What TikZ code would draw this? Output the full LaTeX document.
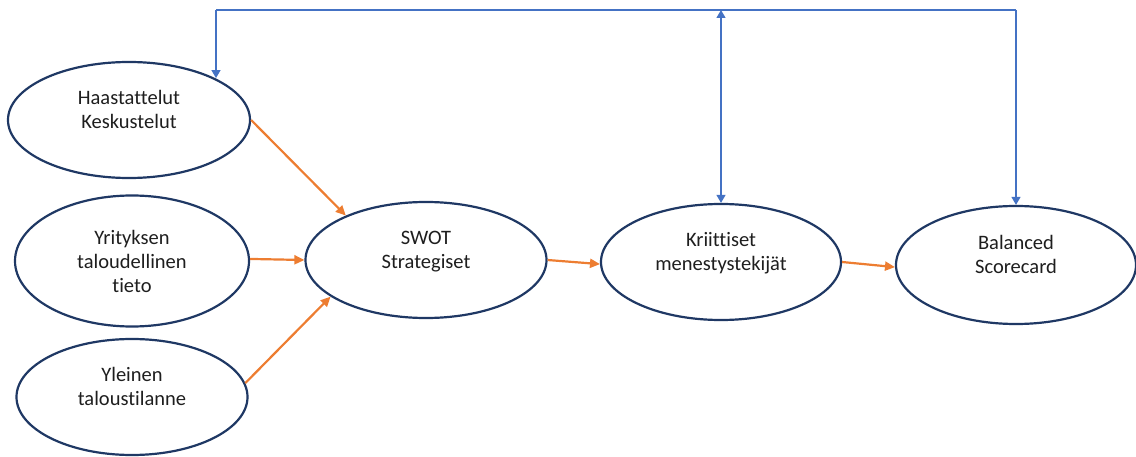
\documentclass[tikz,border=0pt]{standalone}
\usepackage{fontspec}
\setmainfont{Carlito}[Ligatures=NoCommon]
\usetikzlibrary{shapes.geometric,arrows.meta}
\definecolor{navy}{RGB}{31,56,100}
\definecolor{flow}{RGB}{237,125,49}
\definecolor{loop}{RGB}{68,114,196}
\definecolor{ink}{RGB}{30,30,30}
\tikzset{
  bubble/.style={ellipse, draw=navy, line width=2.2pt, inner sep=0pt,
    align=center, text=ink, font=\fontsize{20.5}{24}\selectfont},
  % two-line labels sit a little above the middle of their ellipse
  lifted/.style={text depth=21pt},
  flowarrow/.style={draw=flow, line width=2.2pt, -{Triangle[length=10pt,width=9pt]}},
  loopline/.style={draw=loop, line width=1.3pt},
  looptip/.style={-{Triangle[length=8pt,width=9pt]}}
}
\begin{document}
\begin{tikzpicture}[x=1pt,y=-1pt]
\useasboundingbox (0,0) rectangle (1136,457);

% input sources
\node[bubble, lifted, minimum width=242pt, minimum height=116pt] (h) at (129,120) {Haastattelut\\Keskustelut};
\node[bubble, minimum width=234pt, minimum height=131pt] (y) at (132,261) {Yrityksen\\taloudellinen\\tieto};
\node[bubble, lifted, minimum width=231pt, minimum height=116pt] (l) at (132,397) {Yleinen\\taloustilanne};

% main chain
\node[bubble, lifted, minimum width=241pt, minimum height=116pt] (swot) at (426,260) {SWOT\\Strategiset};
\node[bubble, lifted, minimum width=240pt, minimum height=116pt] (krit) at (721,262) {Kriittiset\\menestystekijät};
\node[bubble, lifted, minimum width=240pt, minimum height=118pt] (bal) at (1016,265) {Balanced\\Scorecard};

% orange flow arrows
\draw[flowarrow] (h.0) -- (swot.151);
\draw[flowarrow] (y.1) -- (swot.180);
\draw[flowarrow] (l.7) -- (swot.201);
\draw[flowarrow] (swot.0) -- (krit.181);
\draw[flowarrow] (krit.0) -- (bal.181);

% blue feedback loop across the top
\coordinate (tl) at (216,10);
\coordinate (tm) at (krit.north |- tl);
\coordinate (tr) at (bal.north |- tl);
\draw[loopline] (tl) -- (tr);
\draw[loopline, looptip] (tl) -- (tl |- h.26);
\draw[loopline, looptip] (tr) -- (bal.north);
\draw[loopline, {Triangle[length=8pt,width=9pt]}-{Triangle[length=8pt,width=9pt]}] (tm) -- (krit.north);
\end{tikzpicture}
\end{document}
